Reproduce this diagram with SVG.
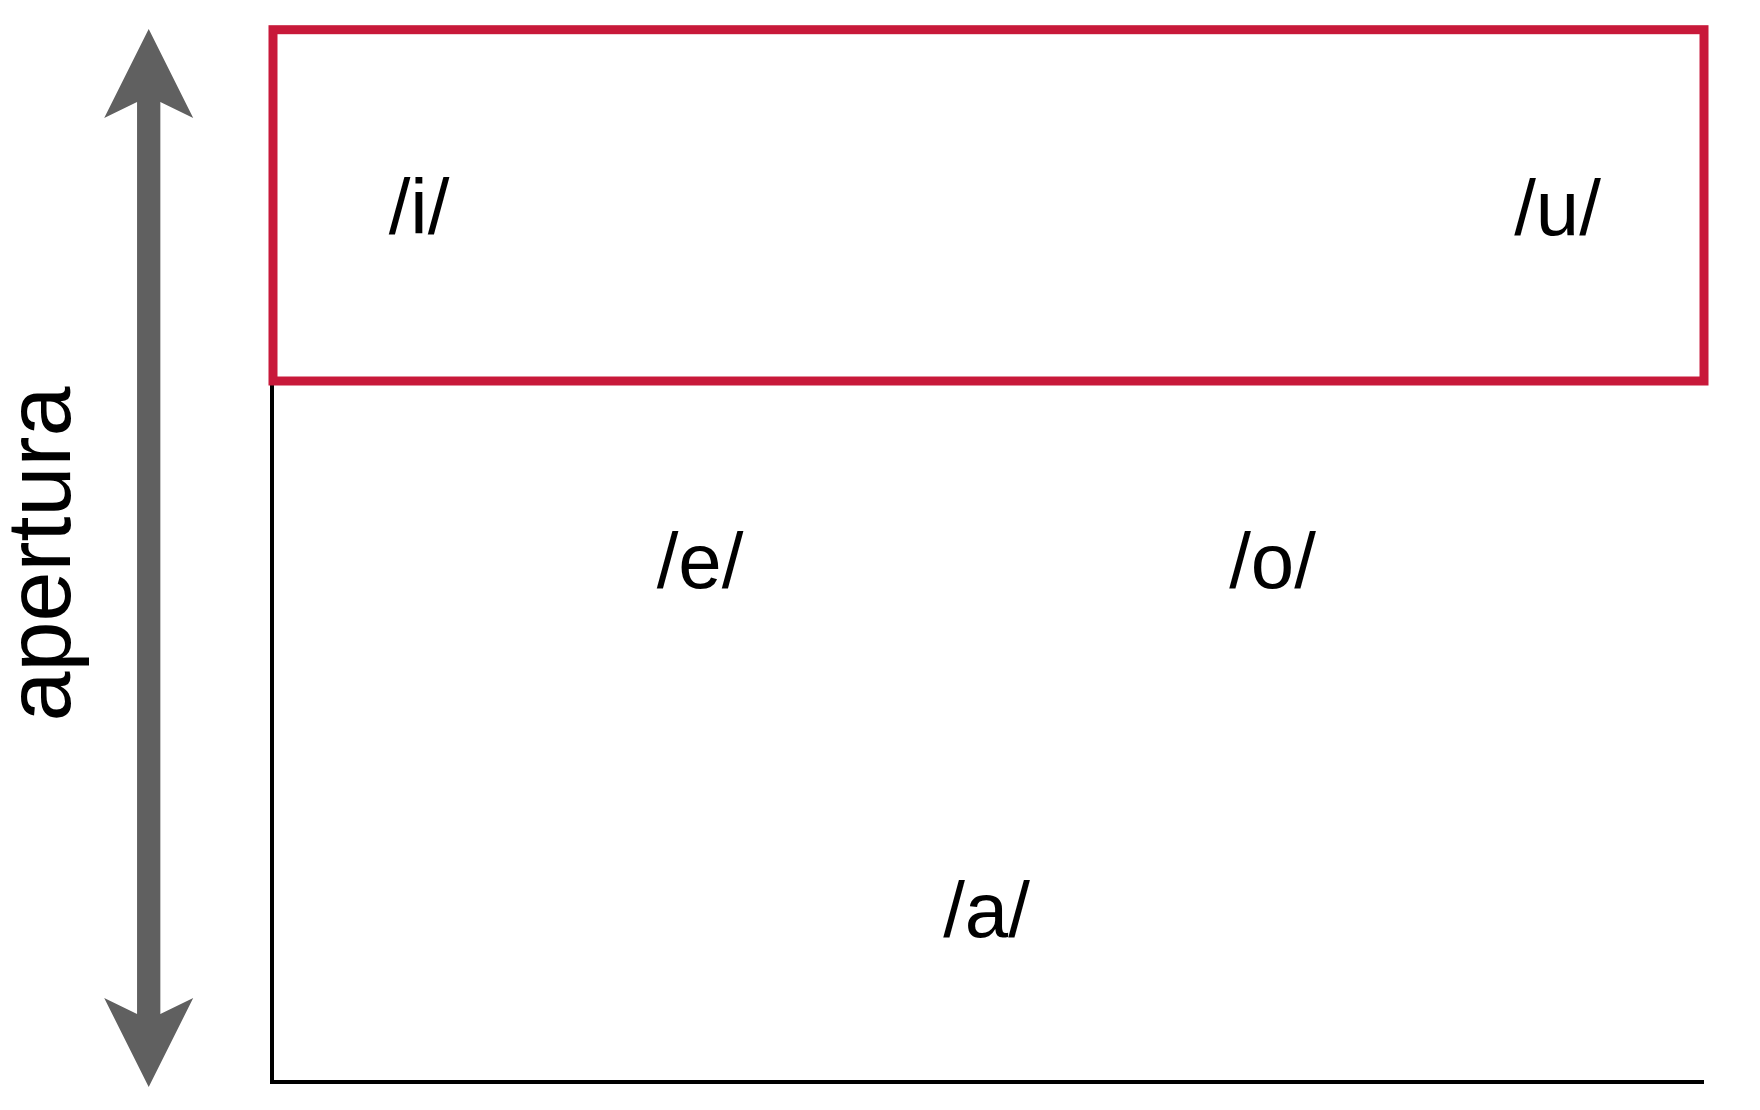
<svg xmlns="http://www.w3.org/2000/svg" width="1760" height="1110" viewBox="0 0 1760 1110">
<style>
.vowel{font-family:"Liberation Sans",Arial,sans-serif;font-size:78px;fill:#000;text-anchor:middle}
.axislabel{font-family:"Liberation Sans",Arial,sans-serif;font-size:90px;fill:#000;text-anchor:middle}
.axis{fill:none;stroke:#000;stroke-width:4}
.highlight{fill:none;stroke:#C8193A;stroke-width:9}
.bigarrow{stroke:#606060;stroke-width:23.3;fill:none}
</style>
<defs>
<marker id="head" markerUnits="userSpaceOnUse" viewBox="-20 -50 100 100" markerWidth="100" markerHeight="100" refX="0" refY="0" orient="auto-start-reverse" overflow="visible">
<path d="M73 0 L-16 44.5 L0 11.65 L0 -11.65 L-16 -44.5 Z" fill="#606060"/>
</marker>
</defs>
<rect width="1760" height="1110" fill="#fff"/>
<g id="axes">
<path class="axis" d="M272 381 V1082 H1704"/>
</g>
<g id="connectors">
<line class="bigarrow" x1="148.7" y1="1014" x2="148.7" y2="102" marker-start="url(#head)" marker-end="url(#head)"/>
</g>
<g id="high-vowels-box">
<rect class="highlight" x="273" y="29.7" width="1431" height="351.3"/>
</g>
<g id="label-apertura">
<text class="axislabel" transform="translate(70,554) rotate(-90)" x="0" y="0">apertura</text>
</g>
<g id="node-i"><text class="vowel" x="419" y="234">/i/</text></g>
<g id="node-u"><text class="vowel" x="1557.5" y="235">/u/</text></g>
<g id="node-e"><text class="vowel" x="700" y="588">/e/</text></g>
<g id="node-o"><text class="vowel" x="1272.5" y="588">/o/</text></g>
<g id="node-a"><text class="vowel" x="986.5" y="937">/a/</text></g>
</svg>
